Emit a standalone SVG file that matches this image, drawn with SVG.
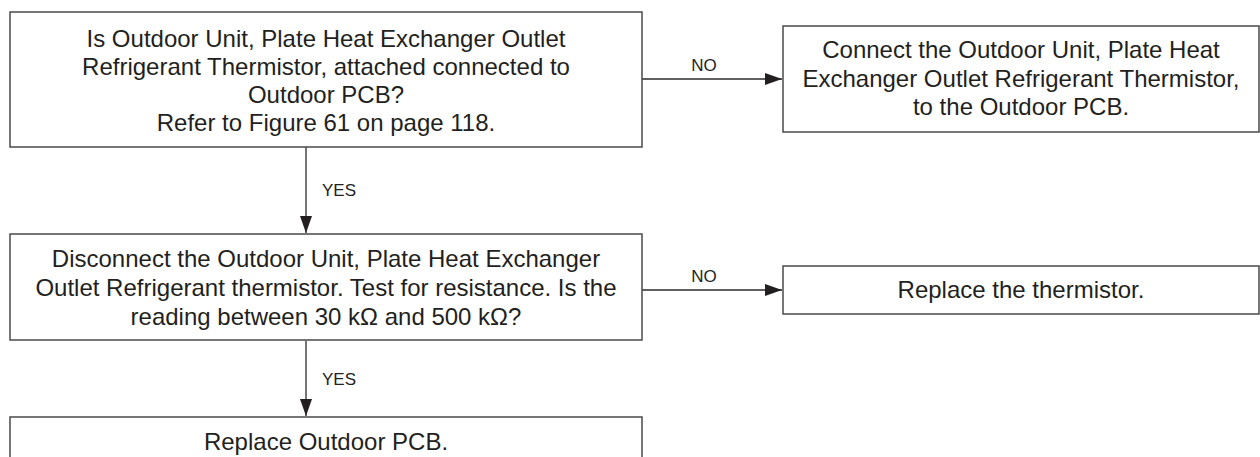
<svg xmlns="http://www.w3.org/2000/svg" width="1260" height="457" viewBox="0 0 1260 457">
  <defs>
    <style>
      .box { fill: #ffffff; stroke: #4a4a4a; stroke-width: 1.5; }
      .t { font-family: "Liberation Sans", Arial, sans-serif; font-size: 24px; fill: #231f20; text-anchor: middle; }
      .lbl { font-family: "Liberation Sans", Arial, sans-serif; font-size: 17px; fill: #231f20; }
      .c { stroke: #2b2b2b; stroke-width: 1.3; fill: none; marker-end: url(#ah); }
    </style>
    <marker id="ah" markerUnits="userSpaceOnUse" markerWidth="17" markerHeight="12" refX="17" refY="6" orient="auto">
      <path d="M0,0 L17,6 L0,12 z" fill="#231f20"/>
    </marker>
  </defs>
  <rect width="1260" height="457" fill="#ffffff"/>

  <g id="connectors">
    <line class="c" x1="642" y1="79" x2="782" y2="79"/>
    <text class="lbl" x="704" y="71" text-anchor="middle">NO</text>
    <line class="c" x1="306" y1="147" x2="306" y2="233"/>
    <text class="lbl" x="322" y="196">YES</text>
    <line class="c" x1="642" y1="290" x2="782" y2="290"/>
    <text class="lbl" x="704" y="282" text-anchor="middle">NO</text>
    <line class="c" x1="306" y1="341" x2="306" y2="416"/>
    <text class="lbl" x="322" y="385">YES</text>
  </g>

  <g id="q1">
    <rect class="box" x="10" y="12" width="632" height="135"/>
    <text class="t" x="326" y="47">Is Outdoor Unit, Plate Heat Exchanger Outlet</text>
    <text class="t" x="326" y="75">Refrigerant Thermistor, attached connected to</text>
    <text class="t" x="326" y="103">Outdoor PCB?</text>
    <text class="t" x="326" y="131">Refer to Figure 61 on page 118.</text>
  </g>

  <g id="connect">
    <rect class="box" x="783" y="26" width="476" height="106"/>
    <text class="t" x="1021" y="58">Connect the Outdoor Unit, Plate Heat</text>
    <text class="t" x="1021" y="86.5">Exchanger Outlet Refrigerant Thermistor,</text>
    <text class="t" x="1021" y="115">to the Outdoor PCB.</text>
  </g>

  <g id="q2">
    <rect class="box" x="10" y="234" width="632" height="106"/>
    <text class="t" x="326" y="267">Disconnect the Outdoor Unit, Plate Heat Exchanger</text>
    <text class="t" x="326" y="296">Outlet Refrigerant thermistor. Test for resistance. Is the</text>
    <text class="t" x="326" y="325">reading between 30 kΩ and 500 kΩ?</text>
  </g>

  <g id="replace-thermistor">
    <rect class="box" x="783" y="266" width="476" height="48"/>
    <text class="t" x="1021" y="298">Replace the thermistor.</text>
  </g>

  <g id="replace-pcb">
    <rect class="box" x="10" y="417" width="632" height="60"/>
    <text class="t" x="326" y="450">Replace Outdoor PCB.</text>
  </g>
</svg>
